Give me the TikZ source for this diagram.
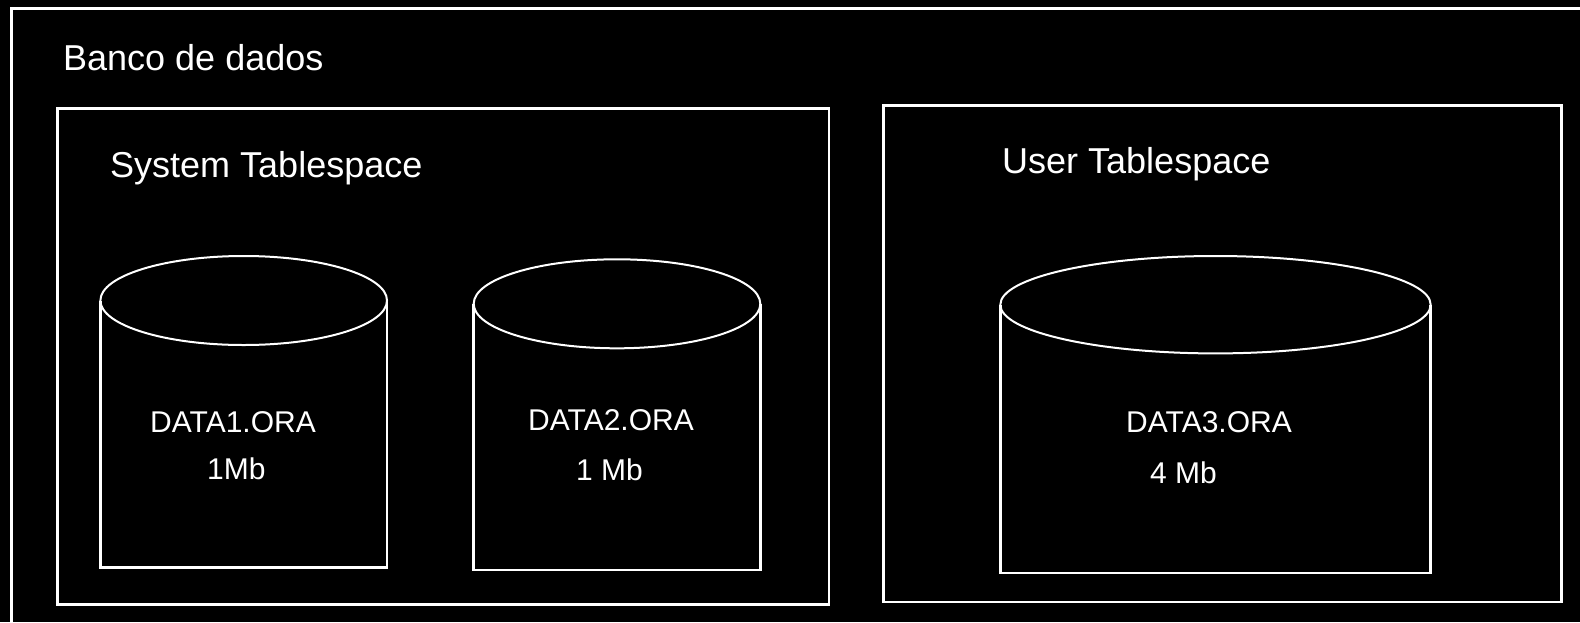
\documentclass[tikz,border=0pt]{standalone}
\usepackage{fontspec}
\setmainfont{Liberation Sans}
\begin{document}
\begin{tikzpicture}[x=1pt,y=-1pt,
  framebox/.style={draw=white, line width=2.8pt, inner sep=0pt, fill=none},
  drumtop/.style={draw=white, line width=2pt},
  drumbody/.style={draw=white, line width=2.5pt},
  headtext/.style={text=white, font=\fontsize{36}{43}\selectfont, anchor=base west, inner sep=0pt},
  filetext/.style={text=white, font=\fontsize{30}{36}\selectfont, anchor=base west, inner sep=0pt}]
\useasboundingbox (0,0) rectangle (1580,622);
\fill[black] (0,0) rectangle (1580,622);

% database frame, running past the right and bottom edges
\begin{scope}
  \clip (0,0) rectangle (1580,622);
  \draw[framebox] (11.5,8.7) rectangle (1640,680);
\end{scope}
\node[headtext] (db) at (63,70) {Banco de dados};

% tablespaces
\node[framebox, minimum width=771.5pt, minimum height=495.7pt] (sys) at (443.25,356.55) {};
\node[framebox, line width=2.4pt, minimum width=678pt, minimum height=496.7pt] (usr) at (1222.5,353.65) {};
\node[headtext] (systitle) at (110,177) {System Tablespace};
\node[headtext] (usrtitle) at (1002,173) {User Tablespace};

% data files drawn as cylinders with a flat base
\draw[drumtop] (243.7,300.5) ellipse [x radius=143.3pt, y radius=44.5pt];
\draw[drumbody] (100.4,300.5) -- (100.4,567.3) -- (387,567.3) -- (387,300.5);
\draw[drumtop] (617,303.8) ellipse [x radius=143.3pt, y radius=44.5pt];
\draw[drumbody] (473.7,303.8) -- (473.7,570) -- (760.3,570) -- (760.3,303.8);
\draw[drumtop] (1215.5,304.7) ellipse [x radius=215.2pt, y radius=48.7pt];
\draw[drumbody] (1000.3,304.7) -- (1000.3,573.2) -- (1430.7,573.2) -- (1430.7,304.7);

\node[filetext] (f1) at (150,432) {DATA1.ORA};
\node[filetext] (s1) at (207,479) {1Mb};
\node[filetext] (f2) at (528,430) {DATA2.ORA};
\node[filetext] (s2) at (576,480) {1 Mb};
\node[filetext] (f3) at (1126,432) {DATA3.ORA};
\node[filetext] (s3) at (1150,483) {4 Mb};
\end{tikzpicture}
\end{document}
